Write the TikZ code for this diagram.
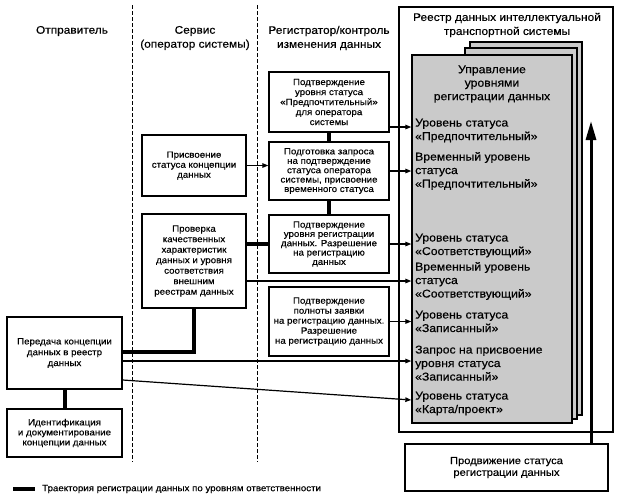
\documentclass[tikz,border=0pt]{standalone}
\usepackage{fontspec}
\setmainfont{Liberation Sans}[FakeStretch=1.08,FakeBold=0.35]
\usetikzlibrary{arrows.meta}
\definecolor{pagegrey}{RGB}{202,202,202}
\tikzset{
  box/.style={draw, line width=1.3pt, fill=white, align=center, inner sep=0pt,
    font=\fontsize{9}{10}\selectfont},
  page/.style={draw, line width=1.3pt, fill=pagegrey, inner sep=0pt},
  hdr/.style={align=center, inner sep=0pt, font=\fontsize{11}{14}\selectfont},
  lvl/.style={align=left, anchor=base west, inner sep=0pt, font=\fontsize{11.3}{13.5}\selectfont},
  path/.style={line width=4pt},
  link/.style={line width=1.2pt, -{Triangle[length=6pt,width=4.5pt]}},
  lane/.style={line width=0.9pt, dash pattern=on 3.5pt off 2.5pt},
}
\begin{document}
\begin{tikzpicture}[x=1pt,y=-1pt]
\useasboundingbox (0,0) rectangle (619,499);
% lane separators
\coordinate (l1t) at (132,5); \coordinate (l1b) at (132,462);
\coordinate (l2t) at (257,5); \coordinate (l2b) at (257,462);
\draw[lane] (l1t) -- (l1b);
\draw[lane] (l2t) -- (l2b);
% headers
\node[hdr] (h1) at (72,31) {Отправитель};
\node[hdr] (h2) at (195,38) {Сервис\\(оператор системы)};
\node[hdr] (h3) at (329,38) {Регистратор/контроль\\изменения данных};
% registry
\node[draw, line width=1.3pt, inner sep=0pt, minimum width=214pt, minimum height=425pt] (reg) at (506,219.5) {};
\node[hdr] (regt) at (507,25) {Реестр данных интеллектуальной\\транспортной системы};
\node[page, minimum width=112pt, minimum height=373pt] (back) at (526,228.5) {};
\node[page, minimum width=112pt, minimum height=371pt] (mid) at (521,233.5) {};
\node[page, minimum width=160pt, minimum height=368pt] (front) at (492,239) {};
\node[hdr, font=\fontsize{11.3}{13.5}\selectfont] (mgmt) at (492,84) {Управление\\уровнями\\регистрации данных};
% (anchor = baseline of the last line)
\node[lvl] (g1) at (415,140) {Уровень статуса\\«Предпочтительный»};
\node[lvl] (g2) at (415,187.5) {Временный уровень\\статуса\\«Предпочтительный»};
\node[lvl] (g3) at (415,255) {Уровень статуса\\«Соответствующий»};
\node[lvl] (g4) at (415,297.5) {Временный уровень\\статуса\\«Соответствующий»};
\node[lvl] (g5) at (415,332) {Уровень статуса\\«Записанный»};
\node[lvl] (g6) at (415,380.5) {Запрос на присвоение\\уровня статуса\\«Записанный»};
\node[lvl] (g7) at (415,413) {Уровень статуса\\«Карта/проект»};
% boxes
\node[box, minimum width=104pt, minimum height=61pt] (prisv) at (194,165.5) {Присвоение\\статуса концепции\\данных};
\node[box, minimum width=104pt, minimum height=94pt, font=\fontsize{9}{10.5}\selectfont] (prov) at (194,261) {Проверка\\качественных\\характеристик\\данных и уровня\\соответствия\\внешним\\реестрам данных};
\node[box, minimum width=120pt, minimum height=60pt] (r1) at (329,102) {Подтверждение\\уровня статуса\\«Предпочтительный»\\для оператора\\системы};
\node[box, minimum width=120pt, minimum height=58pt, font=\fontsize{9}{9.4}\selectfont] (r2) at (329,171) {Подготовка запроса\\на подтверждение\\статуса оператора\\системы, присвоение\\временного статуса};
\node[box, minimum width=120pt, minimum height=58pt, font=\fontsize{9}{9.3}\selectfont] (r3) at (329,244) {Подтверждение\\уровня регистрации\\данных. Разрешение\\на регистрацию\\данных};
\node[box, minimum width=120pt, minimum height=69pt] (r4) at (329,321.5) {Подтверждение\\полноты заявки\\на регистрацию данных.\\Разрешение\\на регистрацию данных};
\node[box, minimum width=115pt, minimum height=72pt, font=\fontsize{9}{10.8}\selectfont] (pered) at (64.5,353) {Передача концепции\\данных в реестр\\данных};
\node[box, minimum width=115pt, minimum height=48pt] (ident) at (64.5,433) {Идентификация\\и документирование\\концепции данных};
\node[box, minimum width=203pt, minimum height=47pt, font=\fontsize{10.3}{11.8}\selectfont] (prod) at (506.5,467.5) {Продвижение статуса\\регистрации данных};
% thick trajectory
\draw[path] (r1.south) -- (r2.north);
\draw[path] (r2.south) -- (r3.north);
\draw[path] (r3.west -| prov.east) -- (r3.west);
\draw[path] (prov.south) |- (pered.east |- 0,352);
\draw[path] (pered.south) -- (ident.north);
% arrows into registry
\draw[link] (prisv.east) -- (prisv.east -| r2.west);
\draw[link] (r1.east |- 0,127) -- (front.west |- 0,127);
\draw[link] (r2.east) -- (r2.east -| front.west);
\draw[link] (r3.east) -- (r3.east -| front.west);
\draw[link] (prov.east |- 0,281) -- (front.west |- 0,281);
\draw[link] (r4.east) -- (r4.east -| front.west);
\draw[link] (pered.east |- 0,361) -- (front.west |- 0,361);
\draw[link] (pered.east |- 0,380) -- (front.west |- 0,400);
% promotion arrow
\coordinate (uptip) at (591,121);
\draw[line width=3pt, -{Triangle[length=19pt,width=10pt]}] (prod.north -| uptip) -- (uptip);
% legend
\coordinate (lga) at (13,489); \coordinate (lgb) at (35,489);
\draw[path] (lga) -- (lgb);
\node[anchor=west, inner sep=0pt, font=\fontsize{9}{10}\selectfont] (lgt) at (42,489) {Траектория регистрации данных по уровням ответственности};
\end{tikzpicture}
\end{document}
